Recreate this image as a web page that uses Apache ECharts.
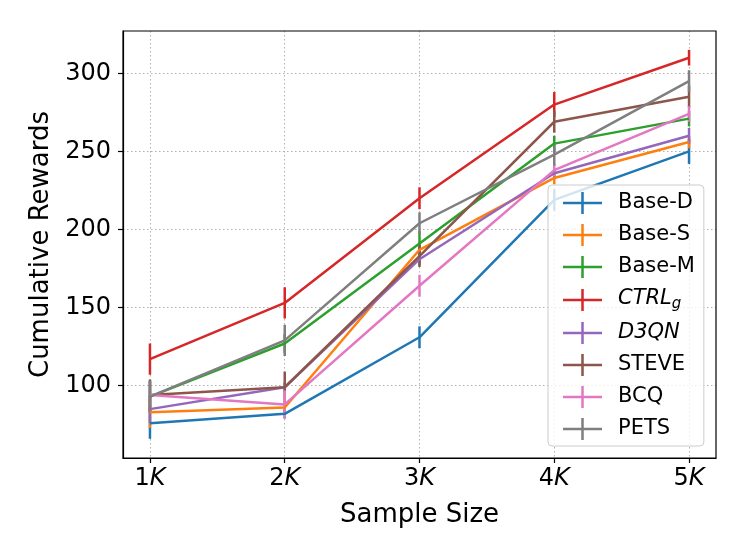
<!DOCTYPE html>
<html>
<head>
<meta charset="utf-8">
<script src="https://cdn.jsdelivr.net/npm/echarts@6/dist/echarts.min.js"></script>
<style>
  html, body { margin: 0; padding: 0; background: #fff; }
  #chart { width: 747px; height: 559px; }
</style>
</head>
<body>
<div id="chart"></div>
<script>
// sample sizes (in K) and tick labels
var sampleSizes = [1, 2, 3, 4, 5];
var yTicks = [100, 150, 200, 250, 300];

var methods = ['Base-D', 'Base-S', 'Base-M', 'CTRLg', 'D3QN', 'STEVE', 'BCQ', 'PETS'];
var colors = ['#1f77b4', '#ff7f0e', '#2ca02c', '#d62728', '#9467bd', '#8c564b', '#e377c2', '#7f7f7f'];

// mean rewards
var baseD = [76, 82, 131, 219, 250];
var baseS = [83, 86, 187, 233, 256];
var baseM = [93, 127, 191, 255, 271];
var ctrlG = [117, 153, 220, 280, 310];
var d3qn = [85, 99, 181, 236, 260];
var steve = [94, 99, 183, 269, 285];
var bcq = [94, 88, 164, 238, 274];
var pets = [93, 129, 204, 248, 295];

// half-length of the error bars
var baseDErr = [10, 3, 7, 7, 8];
var baseSErr = [10, 3, 5, 4, 4];
var baseMErr = [10, 6, 8, 5, 5];
var ctrlGErr = [10, 10, 7, 8, 5];
var d3qnErr = [9, 3, 4, 3, 5];
var steveErr = [10, 10, 7, 7, 7];
var bcqErr = [9, 9, 7, 4, 5];
var petsErr = [10, 10, 7, 7, 7];

var means = [baseD, baseS, baseM, ctrlG, d3qn, steve, bcq, pets];
var errs = [baseDErr, baseSErr, baseMErr, ctrlGErr, d3qnErr, steveErr, bcqErr, petsErr];

var FONT = 'DejaVu Sans';
var LW = 2.5;
var legendIcon = 'path://M0,9.75H39V12.25H0Z M18.25,0H20.75V22H18.25Z';

function errorBars(color) {
    return function (params, api) {
        var x = api.value(0), y = api.value(1), e = api.value(2);
        var top = api.coord([x, y + e]);
        var bot = api.coord([x, y - e]);
        return {
            type: 'line',
            shape: {x1: top[0], y1: top[1], x2: bot[0], y2: bot[1]},
            style: {stroke: color, lineWidth: LW}
        };
    };
}

var series = [];
for (var i = 0; i < methods.length; i++) {
    var lineData = [], barData = [];
    for (var j = 0; j < sampleSizes.length; j++) {
        lineData.push([sampleSizes[j], means[i][j]]);
        barData.push([sampleSizes[j], means[i][j], errs[i][j]]);
    }
    series.push({
        name: methods[i],
        type: 'line',
        data: lineData,
        symbol: 'none',
        animation: false,
        lineStyle: {color: colors[i], width: LW},
        itemStyle: {color: colors[i]}
    });
    series.push({
        name: methods[i] + '-err',
        type: 'custom',
        data: barData,
        renderItem: errorBars(colors[i]),
        animation: false,
        silent: true
    });
}

var legendData = methods.map(function (m, i) {
    return {name: m, icon: legendIcon, itemStyle: {color: colors[i], borderWidth: 0}};
});

var chart = echarts.init(document.getElementById('chart'), null, {renderer: 'canvas'});
chart.setOption({
    animation: false,
    backgroundColor: '#fff',
    grid: {left: 123, right: 31, top: 31, bottom: 101, show: false},
    xAxis: {
        type: 'value',
        min: 0.8,
        max: 5.2,
        name: 'Sample Size',
        nameLocation: 'middle',
        nameGap: 44,
        nameTextStyle: {fontFamily: FONT, fontSize: 26, color: '#000'},
        axisLine: {show: true, onZero: false, lineStyle: {color: '#000', width: 1.2}},
        axisTick: {show: true, length: 5, customValues: sampleSizes, lineStyle: {color: '#000', width: 1.2}},
        axisLabel: {
            customValues: sampleSizes,
            margin: 9,
            fontFamily: FONT,
            fontSize: 24,
            color: '#000',
            formatter: function (v) { return '{n|' + v + '}{k|K}'; },
            rich: {
                n: {fontFamily: FONT, fontSize: 24, color: '#000'},
                k: {fontFamily: FONT, fontSize: 24, fontStyle: 'italic', color: '#000'}
            }
        },
        splitLine: {show: true, lineStyle: {color: '#b0b0b0', type: [1.5, 2.5], width: 1}}
    },
    yAxis: {
        type: 'value',
        min: 53.7,
        max: 327.1,
        name: 'Cumulative Rewards',
        nameLocation: 'middle',
        nameRotate: 90,
        nameGap: 65,
        nameTextStyle: {fontFamily: FONT, fontSize: 26, color: '#000'},
        axisLine: {show: true, onZero: false, lineStyle: {color: '#000', width: 1.2}},
        axisTick: {show: true, length: 5, customValues: yTicks, lineStyle: {color: '#000', width: 1.2}},
        axisLabel: {customValues: yTicks, margin: 12, fontFamily: FONT, fontSize: 24, color: '#000'},
        splitLine: {show: true, lineStyle: {color: '#b0b0b0', type: [1.5, 2.5], width: 1}}
    },
    graphic: [{
        type: 'rect',
        shape: {x: 123, y: 31, width: 593, height: 427},
        style: {fill: 'none', stroke: '#000', lineWidth: 1.2},
        silent: true,
        z: 100
    }],
    legend: {
        orient: 'vertical',
        left: 548,
        top: 185,
        data: legendData,
        itemWidth: 39,
        itemHeight: 22,
        itemGap: 10,
        padding: [7, 9, 6, 15],
        backgroundColor: 'rgba(255,255,255,0.8)',
        borderColor: '#cccccc',
        borderWidth: 1,
        borderRadius: 4,
        selectedMode: false,
        textStyle: {
            fontFamily: FONT,
            fontSize: 21,
            color: '#000',
            padding: [0, 0, 0, 11],
            rich: {
                it: {fontFamily: FONT, fontSize: 21, fontStyle: 'italic', color: '#000', verticalAlign: 'top'},
                sub: {fontFamily: FONT, fontSize: 15, fontStyle: 'italic', color: '#000', padding: [9, 0, 0, 0]}
            }
        },
        formatter: function (name) {
            if (name === 'CTRLg') return '{it|CTRL}{sub|g}';
            if (name === 'D3QN') return '{it|D3QN}';
            return name;
        }
    },
    series: series
});
</script>
</body>
</html>
